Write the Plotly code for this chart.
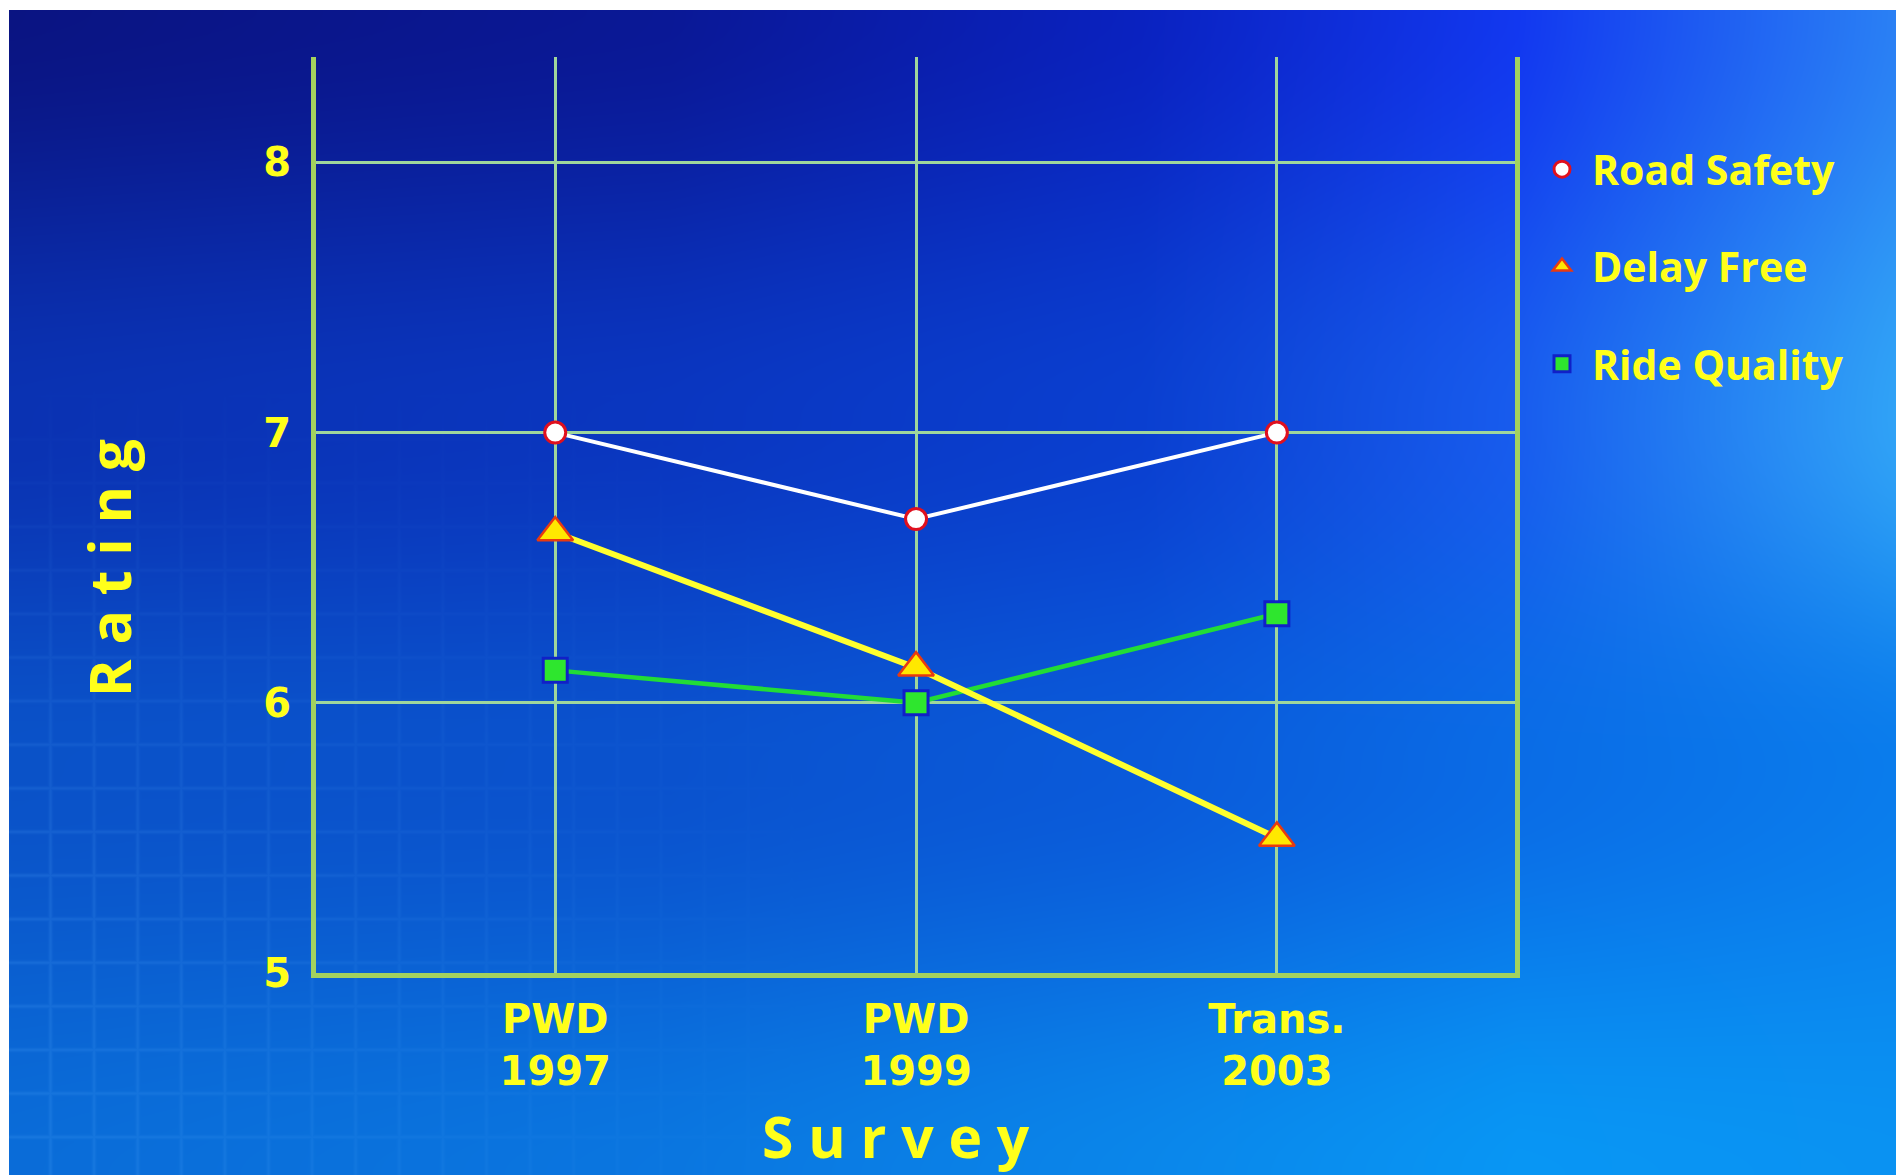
import base64
import struct
import zlib

import numpy as np
import plotly.graph_objects as go

# ---- data -------------------------------------------------------------
surveys = ["PWD<br>1997", "PWD<br>1999", "Trans.<br>2003"]
road_safety = [7.0, 6.68, 7.0]
delay_free = [6.63, 6.13, 5.5]
ride_quality = [6.12, 6.0, 6.33]
rating_ticks = [5, 6, 7, 8]

# ---- page geometry ----------------------------------------------------
FIG_W, FIG_H = 1896, 1175
M_L, M_R, M_T, M_B = 316, 381, 57, 202
PLOT_W = FIG_W - M_L - M_R
PLOT_H = FIG_H - M_T - M_B

YELLOW = "#ffff1a"
AXIS_GREEN = "#a3d25e"
GRID_GREEN = "#9fd69c"
TEXT_FONT = "Open Sans"
TICK_FONT = "DejaVu Sans"


def px_x(px):
    """Pixel column -> paper x."""
    return (px - M_L) / PLOT_W


def px_y(py):
    """Pixel row -> paper y."""
    return (FIG_H - M_B - py) / PLOT_H


def hex_rgb(h):
    h = h.lstrip("#")
    return [int(h[i:i + 2], 16) for i in (0, 2, 4)]


def backdrop_rgb(x0, y0):
    """Blue slide backdrop: navy top-left to sky blue right, faint grid paper bottom-left."""
    w, h = FIG_W - x0, FIG_H - y0
    u = np.linspace(0.0, 1.0, w)
    v = np.linspace(0.0, 1.0, h)
    cols_u = [0.0, 0.35, 0.6, 0.8, 1.0]
    rows_v = [0.0, 0.35, 0.65, 1.0]
    stops = [
        ["#0a1482", "#0a1896", "#0a22c0", "#1238f0", "#2a80f4"],
        ["#0a32b2", "#0a36c0", "#0a3fd0", "#185cee", "#30a2f6"],
        ["#0a52c8", "#0a52ce", "#0a5ada", "#0a6ce6", "#0a7cec"],
        ["#0a6cd8", "#0a76e0", "#0a86ea", "#0896f4", "#0a92f2"],
    ]
    rgb = np.array([[hex_rgb(c) for c in row] for row in stops], dtype=float)
    rows = np.empty((len(rows_v), w, 3))
    for i in range(len(rows_v)):
        for c in range(3):
            rows[i, :, c] = np.interp(u, cols_u, rgb[i, :, c])
    idx = np.clip(np.searchsorted(rows_v, v, side="right") - 1, 0, len(rows_v) - 2)
    t = (v - np.take(rows_v, idx)) / (np.take(rows_v, idx + 1) - np.take(rows_v, idx))
    t = t * t * (3 - 2 * t)
    img = rows[idx] * (1 - t)[:, None, None] + rows[idx + 1] * t[:, None, None]

    # faint graph-paper texture
    X = np.arange(w) + x0
    Y = np.arange(h) + y0
    step = 43.6
    dx = X - (50 + step * np.round((X - 50) / step))
    dy = Y - (657 + step * np.round((Y - 657) / step))
    lx = np.exp(-(dx ** 2) / (2 * 1.3 ** 2))
    ly = np.exp(-(dy ** 2) / (2 * 1.3 ** 2))
    fx = np.clip(1 - X / 820.0, 0, 1)
    fy = np.clip((Y - 380) / 500.0, 0, 1)
    a = 0.16 * np.maximum(lx[None, :], ly[:, None]) * fx[None, :] * fy[:, None]
    tint = np.array([90.0, 175.0, 255.0])
    img = img * (1 - a[..., None]) + tint * a[..., None]
    return np.clip(np.round(img), 0, 255).astype(np.uint8)


def png_uri(arr):
    h, w, _ = arr.shape
    flat = arr.reshape(h, w * 3).astype(np.int16)
    sub = flat.copy()
    sub[:, 3:] = flat[:, 3:] - flat[:, :-3]
    sub = (sub % 256).astype(np.uint8)
    raw = np.hstack([np.ones((h, 1), np.uint8), sub]).tobytes()

    def chunk(tag, data):
        return (struct.pack(">I", len(data)) + tag + data
                + struct.pack(">I", zlib.crc32(tag + data) & 0xFFFFFFFF))

    png = (b"\x89PNG\r\n\x1a\n"
           + chunk(b"IHDR", struct.pack(">IIBBBBB", w, h, 8, 2, 0, 0, 0))
           + chunk(b"IDAT", zlib.compress(raw, 9))
           + chunk(b"IEND", b""))
    return "data:image/png;base64," + base64.b64encode(png).decode()


BG_X0, BG_Y0 = 9, 10
backdrop = png_uri(backdrop_rgb(BG_X0, BG_Y0))

fig = go.Figure()

# connecting lines first, markers on top
fig.add_trace(go.Scatter(x=surveys, y=road_safety, mode="lines",
                         line=dict(color="#ffffff", width=4),
                         showlegend=False, hoverinfo="skip"))
fig.add_trace(go.Scatter(x=surveys, y=ride_quality, mode="lines",
                         line=dict(color="#22dc36", width=4.5),
                         showlegend=False, hoverinfo="skip"))
fig.add_trace(go.Scatter(x=surveys, y=delay_free, mode="lines",
                         line=dict(color="#ffff2e", width=6),
                         showlegend=False, hoverinfo="skip"))

fig.add_trace(go.Scatter(x=surveys, y=road_safety, mode="markers", name="Road Safety",
                         legendgroup="rs", legendrank=1,
                         marker=dict(symbol="circle", size=21, color="#ffffff",
                                     line=dict(color="#e0101e", width=3))))
fig.add_trace(go.Scatter(x=surveys, y=ride_quality, mode="markers", name="Ride Quality",
                         legendgroup="rq", legendrank=3,
                         marker=dict(symbol="square", size=24, color="#2ee62e",
                                     line=dict(color="#1020c8", width=3))))
fig.add_trace(go.Scatter(x=surveys, y=delay_free, mode="markers", name="Delay Free",
                         legendgroup="df", legendrank=2,
                         marker=dict(symbol="triangle-up", size=31, color="#ffe800",
                                     line=dict(color="#e83a10", width=2.5))))

tick_font = dict(family=TICK_FONT, size=40, color=YELLOW, weight="bold")
title_font = dict(family=TEXT_FONT, size=57, color=YELLOW, weight="bold")

fig.update_layout(
    width=FIG_W, height=FIG_H,
    margin=dict(l=M_L, r=M_R, t=M_T, b=M_B, pad=0),
    paper_bgcolor="#ffffff",
    plot_bgcolor="rgba(0,0,0,0)",
    images=[dict(source=backdrop, xref="paper", yref="paper",
                 x=px_x(BG_X0), y=px_y(BG_Y0),
                 sizex=(FIG_W - BG_X0) / PLOT_W, sizey=(FIG_H - BG_Y0) / PLOT_H,
                 xanchor="left", yanchor="top", sizing="stretch", layer="below")],
    xaxis=dict(type="category", range=[-0.663, 2.66],
               showgrid=True, gridcolor=GRID_GREEN, gridwidth=3,
               showline=True, linecolor=AXIS_GREEN, linewidth=5, mirror=False,
               zeroline=False, ticks="", ticklabelstandoff=7,
               tickfont=tick_font),
    yaxis=dict(range=[5, 8.39], tickmode="array", tickvals=rating_ticks,
               showgrid=True, gridcolor=GRID_GREEN, gridwidth=3,
               showline=True, linecolor=AXIS_GREEN, linewidth=5, mirror=True,
               zeroline=False, ticks="", ticklabelstandoff=12,
               tickfont=tick_font),
    annotations=[
        dict(text="R a t i n g", textangle=-90, showarrow=False,
             xref="paper", yref="paper", x=px_x(109), y=px_y(568),
             xanchor="center", yanchor="middle", font=title_font),
        dict(text="S u r v e y", showarrow=False,
             xref="paper", yref="paper", x=px_x(896), y=px_y(1136),
             xanchor="center", yanchor="middle", font=title_font),
    ],
    legend=dict(x=px_x(1532), xanchor="left",
                y=px_y(136), yanchor="top", itemwidth=50,
                bgcolor="rgba(0,0,0,0)", borderwidth=0,
                font=dict(family=TEXT_FONT, size=41, color=YELLOW, weight="bold"),
                tracegroupgap=41, traceorder="grouped"),
    hovermode=False,
    showlegend=True,
)

fig.write_html("out.html")
